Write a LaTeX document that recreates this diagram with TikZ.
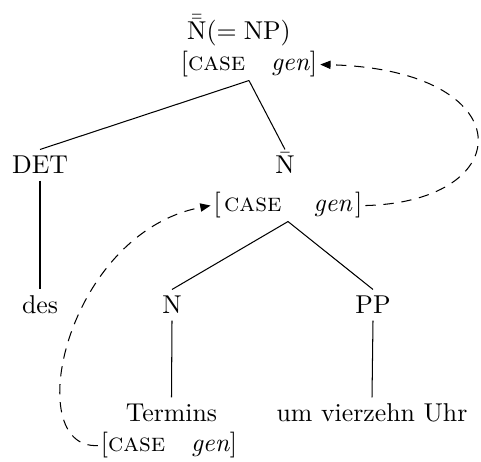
\documentclass[tikz,border=0pt]{standalone}
\usepackage{amsmath}
\usetikzlibrary{arrows.meta,positioning}

\begin{document}
\begin{tikzpicture}[x=0.3876pt,y=-0.3876pt,
  cat/.style={anchor=base,inner sep=2.4pt,text height=6.9pt,text depth=0pt},
  feat/.style={anchor=base,inner xsep=1pt,inner ysep=1pt},
  link/.style={dash pattern=on 4pt off 3pt,-{Triangle[length=4pt,width=3.2pt]}}]
\useasboundingbox (0,0) rectangle (481,462);
\node[feat] (np) at (239,40) {$\bar{\bar{\mathrm{N}}}(=\mathrm{NP})$};
\node[feat] (npcase) at (249,71) {[\textsc{case}\quad\textit{gen}]};
\node[cat] (det) at (40,174) {DET};
\node[cat] (nbar) at (285,174) {$\bar{\mathrm{N}}$};
\node[feat] (nbarcase) at (288,212) {[\hspace{1.3pt}\textsc{case}\quad\hspace{2.5pt}\textit{gen}\hspace{1pt}]};
\node[cat] (des) at (40,314) {des};
\node[cat] (n) at (172,314) {N};
\node[cat] (pp) at (373,314) {PP};
\node[cat] (termins) at (171.5,422) {Termins};
\node[cat] (uhr) at (372,422) {um vierzehn Uhr};
\node[feat] (ncase) at (169,452) {[\textsc{case}\quad\textit{gen}]};
\draw (npcase.south) -- (det.north);
\draw (npcase.south) -- (nbar.north);
\draw (det.south) -- (des.north);
\draw (nbarcase.south) -- (n.north);
\draw (nbarcase.south) -- (pp.north);
\draw (n.south) -- (termins.north);
\draw (pp.south) -- (uhr.north);
\draw[link] (nbarcase.east) .. controls +(155,-4) and +(202,5) .. (npcase.east);
\draw[link] (ncase.west) .. controls +(-78,4) and +(-145,28) .. (nbarcase.west);
\end{tikzpicture}
\end{document}
